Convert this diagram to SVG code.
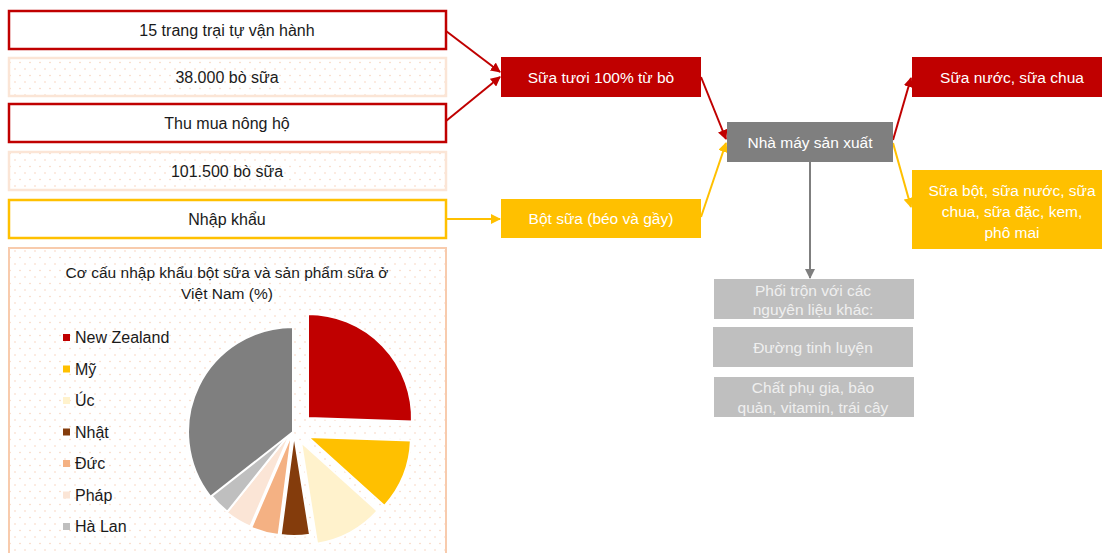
<svg xmlns="http://www.w3.org/2000/svg" width="1102" height="553" viewBox="0 0 1102 553">
<defs>
<pattern id="dots" x="3" y="2" width="10" height="13" patternUnits="userSpaceOnUse">
<rect width="10" height="13" fill="#ffffff"/>
<circle cx="2" cy="2" r="0.8" fill="#f9d3bc"/>
<circle cx="7" cy="8.5" r="0.8" fill="#f9d3bc"/>
</pattern>
<marker id="arR" viewBox="0 0 10 10" refX="9" refY="5" markerWidth="10" markerHeight="10" markerUnits="userSpaceOnUse" orient="auto">
<path d="M0,0 L10,5 L0,10 Z" fill="#c00000"/>
</marker>
<marker id="arY" viewBox="0 0 10 10" refX="9" refY="5" markerWidth="10" markerHeight="10" markerUnits="userSpaceOnUse" orient="auto">
<path d="M0,0 L10,5 L0,10 Z" fill="#ffc000"/>
</marker>
<marker id="arG" viewBox="0 0 10 10" refX="9" refY="5" markerWidth="10" markerHeight="10" markerUnits="userSpaceOnUse" orient="auto">
<path d="M0,0 L10,5 L0,10 Z" fill="#7f7f7f"/>
</marker>
</defs>
<style>
text{font-family:"Liberation Sans","DejaVu Sans",sans-serif;}
.t{font-size:16px;fill:#1a1a1a;text-anchor:middle;dominant-baseline:central;}
.w{font-size:15.5px;fill:#ffffff;text-anchor:middle;dominant-baseline:central;}
.g{font-size:15.5px;fill:#efefef;text-anchor:middle;dominant-baseline:central;}
.ct{font-size:15.5px;fill:#1a1a1a;text-anchor:middle;dominant-baseline:central;}
.lg{font-size:16px;fill:#1a1a1a;dominant-baseline:central;}
.red{fill:#ffffff;stroke:#c00000;stroke-width:2.5;}
.yel{fill:#ffffff;stroke:#ffc000;stroke-width:2.5;}
.pch{fill:url(#dots);stroke:#fbe5d6;stroke-width:2.5;}
.cR{stroke:#c00000;stroke-width:2;fill:none;marker-end:url(#arR);}
.cY{stroke:#ffc000;stroke-width:2;fill:none;marker-end:url(#arY);}
.cG{stroke:#7f7f7f;stroke-width:2;fill:none;marker-end:url(#arG);}
.sl{stroke:#ffffff;stroke-width:2;}
</style>
<rect width="1102" height="553" fill="#ffffff"/>

<g id="connectors">
<line class="cR" x1="446" y1="31" x2="500" y2="72"/>
<line class="cR" x1="446" y1="121" x2="500" y2="77"/>
<line class="cY" x1="446" y1="219" x2="500" y2="219"/>
<line class="cR" x1="701" y1="77" x2="726" y2="139"/>
<line class="cY" x1="701" y1="217" x2="726" y2="143"/>
<line class="cR" x1="893" y1="140" x2="911" y2="78"/>
<line class="cY" x1="893" y1="143" x2="911" y2="207"/>
<line class="cG" x1="810" y1="162" x2="810" y2="278"/>
</g>

<g id="n-trangtrai"><rect class="red" x="9" y="11" width="437" height="38"/><text class="t" x="227" y="30">15 trang trại tự vận hành</text></g>
<g id="n-38000"><rect class="pch" x="9" y="58" width="437" height="38"/><text class="t" x="227" y="77">38.000 bò sữa</text></g>
<g id="n-thumua"><rect class="red" x="9" y="104" width="437" height="38"/><text class="t" x="227" y="123">Thu mua nông hộ</text></g>
<g id="n-101500"><rect class="pch" x="9" y="152" width="437" height="38"/><text class="t" x="227" y="171">101.500 bò sữa</text></g>
<g id="n-nhapkhau"><rect class="yel" x="9" y="200" width="437" height="38"/><text class="t" x="227" y="219">Nhập khẩu</text></g>

<g id="n-suatuoi"><rect x="501" y="57" width="200" height="40" fill="#c00000"/><text class="w" x="601" y="77">Sữa tươi 100% từ bò</text></g>
<g id="n-botsua"><rect x="501" y="199" width="200" height="39" fill="#ffc000"/><text class="w" x="601" y="218.5">Bột sữa (béo và gầy)</text></g>
<g id="n-nhamay"><rect x="727" y="122" width="166" height="40" fill="#7f7f7f"/><text class="w" x="810" y="142">Nhà máy sản xuất</text></g>
<g id="n-suanuoc"><rect x="912" y="57" width="190" height="40" fill="#c00000"/><text class="w" x="1012" y="77">Sữa nước, sữa chua</text></g>
<g id="n-suabot"><rect x="912" y="170" width="190" height="79" fill="#ffc000"/><text class="w" x="1012" y="190">Sữa bột, sữa nước, sữa</text><text class="w" x="1012" y="211">chua, sữa đặc, kem,</text><text class="w" x="1012" y="232">phô mai</text></g>

<g id="n-phoitron"><rect x="714" y="279" width="200" height="40" fill="#bfbfbf"/><text class="g" x="813" y="290">Phối trộn với các</text><text class="g" x="813" y="309">nguyên liệu khác:</text></g>
<g id="n-duong"><rect x="713" y="327" width="200" height="40" fill="#bfbfbf"/><text class="g" x="813" y="347">Đường tinh luyện</text></g>
<g id="n-phugia"><rect x="714" y="377" width="200" height="40" fill="#bfbfbf"/><text class="g" x="813" y="387">Chất phụ gia, bảo</text><text class="g" x="813" y="407">quản, vitamin, trái cây</text></g>

<g id="chart">
<rect x="9" y="248" width="437" height="320" fill="url(#dots)" stroke="#f8cbad" stroke-width="2"/>
<text class="ct" x="227" y="272">Cơ cấu nhập khẩu bột sữa và sản phẩm sữa ở</text>
<text class="ct" x="227" y="293">Việt Nam (%)</text>
<g id="legend">
<rect x="63" y="334" width="7" height="7" fill="#c00000"/><text class="lg" x="75" y="337.5">New Zealand</text>
<rect x="63" y="365.5" width="7" height="7" fill="#ffc000"/><text class="lg" x="75" y="369">Mỹ</text>
<rect x="63" y="397" width="7" height="7" fill="#fff2cc"/><text class="lg" x="75" y="400.5">Úc</text>
<rect x="63" y="428.5" width="7" height="7" fill="#843c0c"/><text class="lg" x="75" y="432">Nhật</text>
<rect x="63" y="460" width="7" height="7" fill="#f4b183"/><text class="lg" x="75" y="463.5">Đức</text>
<rect x="63" y="491.5" width="7" height="7" fill="#fbe5d6"/><text class="lg" x="75" y="495">Pháp</text>
<rect x="63" y="523" width="7" height="7" fill="#bfbfbf"/><text class="lg" x="75" y="526.5">Hà Lan</text>
</g>
<g id="pie">
<path class="sl" fill="#c00000" d="M308,418 L308,314 A104,104 0 0 1 411.9,421.6 Z"/>
<path class="sl" fill="#ffc000" d="M308,437 L410.9,440.6 A103,103 0 0 1 384.5,505.9 Z"/>
<path class="sl" fill="#fff2cc" d="M301,442 L377.5,510.9 A103,103 0 0 1 317.1,543.7 Z"/>
<path class="sl" fill="#843c0c" d="M294,434 L310,534.7 A102,102 0 0 1 280.7,535.1 Z"/>
<path class="sl" fill="#f4b183" d="M292,433 L278.6,535.1 A103,103 0 0 1 251.3,527.6 Z"/>
<path class="sl" fill="#fbe5d6" d="M291,432 L250.3,526.6 A103,103 0 0 1 226.7,512.5 Z"/>
<path class="sl" fill="#bfbfbf" d="M291,432 L227.4,511.7 A102,102 0 0 1 210.8,495.1 Z"/>
<path class="sl" fill="#7f7f7f" d="M293,432 L210.5,496.9 A105,105 0 0 1 293,327 Z"/>
</g>
</g>
</svg>
